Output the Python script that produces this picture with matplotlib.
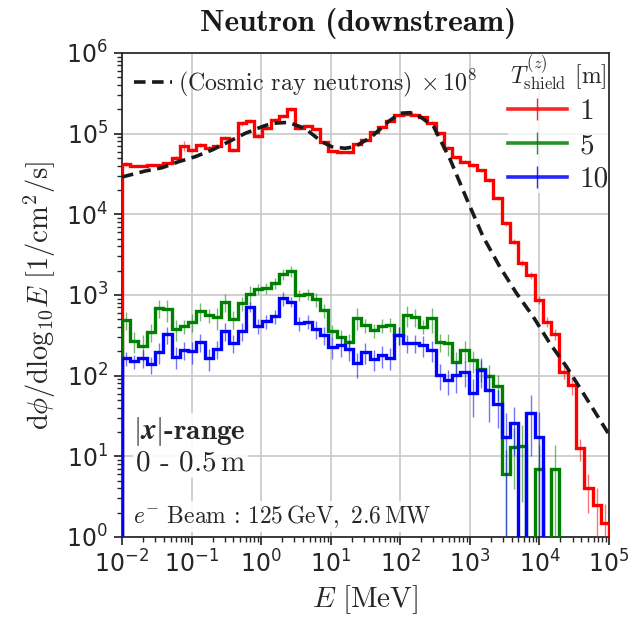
import numpy as np
import matplotlib.pyplot as plt
from matplotlib.lines import Line2D
from matplotlib.ticker import LogLocator, NullFormatter

# --- binning: 59 log bins between 1e-2 and 1e5 MeV ---
N_BINS = 59
edges = np.logspace(-2, 5, N_BINS + 1)
centers = np.sqrt(edges[:-1] * edges[1:])

# --- neutron flux per bin [1/cm^2/s], one list per shield thickness ---
flux_1m = [4.2e4, 4.0e4, 4.0e4, 4.1e4, 4.1e4, 4.3e4, 5.0e4, 7.1e4, 6.3e4, 7.2e4,
           6.7e4, 7.1e4, 8.8e4, 6.3e4, 1.34e5, 1.44e5, 9.4e4, 1.16e5, 1.48e5, 1.67e5,
           2.02e5, 1.16e5, 1.26e5, 1.14e5, 7.9e4, 6.1e4, 5.9e4, 5.9e4, 7.4e4, 8.3e4,
           1.04e5, 1.22e5, 1.44e5, 1.70e5, 1.75e5, 1.72e5, 1.60e5, 1.37e5, 1.01e5, 6.7e4,
           5.1e4, 4.5e4, 4.1e4, 3.5e4, 2.66e4, 1.58e4, 7.7e3, 4.6e3, 2.5e3, 1.77e3,
           867, 467, 330, 112, 77, 12.6, 4.0, 2.5, 1.5]
flux_5m = [490, 269, 235, 351, 697, 670, 379, 413, 467, 634,
           565, 529, 826, 504, 788, 1020, 1200, 1210, 1400, 1800,
           1980, 1000, 1020, 892, 651, 358, 304, 264, 523, 425,
           368, 417, 430, 319, 565, 529, 405, 514, 264, 252,
           149, 208, 156, 120, 99, 74.5, 6.0, 13.2, 13.5, 0,
           6.9, 0, 6.9, 0, 0, 0, 0, 0, 0]
flux_10m = [164, 152, 164, 138, 198, 325, 172, 208, 202, 259,
            164, 214, 358, 252, 358, 716, 415, 476, 550, 910,
            826, 446, 467, 379, 319, 228, 240, 214, 142, 198,
            161, 180, 167, 319, 252, 252, 240, 208, 102, 88,
            102, 112, 61, 118, 66, 44.5, 17.2, 25.6, 0, 34,
            17.5, 0, 0, 0, 0, 0, 0, 0, 0]

# relative statistical errors
rel_1m = [0.05, 0.03, 0.03, 0.03, 0.04, 0.04, 0.05, 0.15, 0.05, 0.05,
          0.04, 0.05, 0.06, 0.05, 0.08, 0.05, 0.05, 0.05, 0.05, 0.05,
          0.06, 0.04, 0.05, 0.04, 0.04, 0.04, 0.04, 0.04, 0.04, 0.04,
          0.04, 0.04, 0.04, 0.04, 0.04, 0.04, 0.04, 0.04, 0.05, 0.05,
          0.05, 0.05, 0.05, 0.05, 0.05, 0.06, 0.06, 0.08, 0.08, 0.1,
          0.12, 0.15, 0.15, 0.2, 0.25, 0.3, 0.5, 0.6, 0.7]
rel_5m = [0.25, 0.3, 0.35, 0.25, 0.25, 0.3, 0.3, 0.2, 0.25, 0.25,
          0.2, 0.3, 0.25, 0.25, 0.2, 0.25, 0.15, 0.15, 0.15, 0.15,
          0.15, 0.15, 0.15, 0.2, 0.2, 0.2, 0.2, 0.25, 0.3, 0.2,
          0.2, 0.2, 0.2, 0.25, 0.3, 0.25, 0.2, 0.35, 0.25, 0.3,
          0.3, 0.3, 0.3, 0.3, 0.35, 0.35, 1.0, 0.7, 0.8, 0,
          1.0, 0, 1.0, 0, 0, 0, 0, 0, 0]
rel_10m = [0.2, 0.2, 0.25, 0.25, 0.3, 0.25, 0.3, 0.25, 0.3, 0.25,
           0.3, 0.25, 0.25, 0.25, 0.25, 0.15, 0.2, 0.2, 0.2, 0.2,
           0.15, 0.2, 0.2, 0.25, 0.25, 0.3, 0.3, 0.3, 0.35, 0.3,
           0.3, 0.3, 0.3, 0.25, 0.25, 0.25, 0.3, 0.3, 0.35, 0.35,
           0.4, 0.35, 0.5, 0.4, 0.6, 0.5, 1.0, 0.6, 0, 0.7,
           1.0, 0, 0, 0, 0, 0, 0, 0, 0]

# cosmic ray neutron spectrum (x 1e8)
cosmic_E = [1e-2, 0.0216, 0.0376, 0.0653, 0.113, 0.197, 0.342, 0.593, 1.03, 1.42,
            2.46, 4.28, 7.41, 10.3, 16.0, 22.3, 38.8, 67.3, 100, 139,
            194, 302, 525, 912, 1550, 2690, 4680, 8130, 1.41e4, 2.45e4,
            4.27e4, 7.41e4, 1e5]
cosmic_flux = [2.9e4, 3.44e4, 3.78e4, 4.49e4, 5.18e4, 6.27e4, 7.94e4, 1.01e5, 1.22e5, 1.34e5,
               1.38e5, 1.16e5, 7.94e4, 6.89e4, 6.58e4, 6.89e4, 9.16e4, 1.41e5, 1.79e5, 1.82e5,
               1.62e5, 1.22e5, 4.71e4, 1.51e4, 5270, 2240, 1050, 538, 252, 129,
               60.4, 28.2, 18.6]

thickness = ['1', '5', '10']
series = [flux_1m, flux_5m, flux_10m]
errors = [rel_1m, rel_5m, rel_10m]
colors = ['#ff0000', '#008000', '#0000ff']

TXT = '#262626'
plt.rcParams.update({
    'font.family': 'DejaVu Sans',
    'xtick.labelsize': 17, 'ytick.labelsize': 17,
    'xtick.color': TXT, 'ytick.color': TXT,
    'axes.edgecolor': TXT, 'axes.linewidth': 1.25,
})

fig = plt.figure(figsize=(6.41, 6.21), dpi=100)
ax = fig.add_axes([0.1903, 0.1353, 0.7598, 0.7794])
ax.set_xscale('log')
ax.set_yscale('log')

for vals, rel, col, z in zip(series, errors, colors, [3, 4, 5]):
    vals = np.array(vals)
    err = vals * np.array(rel)
    ax.stairs(vals, edges, baseline=0, color=col, lw=2.4, zorder=z)
    ok = vals > 0
    ax.errorbar(centers[ok], vals[ok], yerr=err[ok], fmt='none', ecolor=col,
                elinewidth=1.0, alpha=0.55, zorder=z)

cosmic_line, = ax.plot(cosmic_E, cosmic_flux, color='#1a1a1a', lw=2.6,
                       ls=(0, (3.2, 1.8)), zorder=6)

ax.set_xlim(1e-2, 1e5)
ax.set_ylim(1e0, 1e6)
ax.xaxis.set_major_locator(LogLocator(base=10, numticks=100))
ax.yaxis.set_major_locator(LogLocator(base=10, numticks=100))
ax.xaxis.set_minor_locator(LogLocator(base=10, subs=np.arange(2, 10), numticks=100))
ax.yaxis.set_minor_locator(LogLocator(base=10, subs=np.arange(2, 10), numticks=100))
ax.xaxis.set_minor_formatter(NullFormatter())
ax.yaxis.set_minor_formatter(NullFormatter())
ax.tick_params(which='major', length=6, width=1.25, direction='out', pad=4)
ax.tick_params(which='minor', length=3.5, width=1.0, direction='out')
ax.grid(True, which='major', color='#c8c8c8', lw=1.2, zorder=0)
ax.set_axisbelow(True)

ax.set_xlabel(r'$E\ [\mathrm{MeV}]$', fontsize=21, color=TXT, math_fontfamily='cm', labelpad=4)
ax.set_ylabel(r'$\mathrm{d}\phi/\mathrm{dlog}_{10}E\ [1/\mathrm{cm}^2/\mathrm{s}]$', fontsize=20.5,
              color=TXT, math_fontfamily='cm', labelpad=6)
ax.set_title('Neutron (downstream)', fontfamily='cmb10', fontsize=22.5, color='#1a1a1a',
             pad=16, x=0.485)

# legends
leg1 = ax.legend([cosmic_line], [r'(Cosmic ray neutrons) $\times\,10^8$'], loc='upper left',
                 bbox_to_anchor=(-0.02, 1.015), frameon=False, handlelength=1.6, handletextpad=0.25,
                 prop={'family': 'cmr10', 'size': 17.2})
for t in leg1.get_texts():
    t.set_color(TXT)
    t.set_math_fontfamily('cm')
ax.add_artist(leg1)

handles = [Line2D([0], [0], color=c, lw=2.6, marker='|', markersize=16, markeredgewidth=1.0,
                  alpha=0.85) for c in colors]
leg2 = ax.legend(handles, thickness, loc='upper right', bbox_to_anchor=(1.0, 1.0),
                 title=r'$T^{(z)}_\mathrm{shield}$ [m]', numpoints=1, handlelength=2.0,
                 handletextpad=0.45, labelspacing=0.25, borderaxespad=0.0, borderpad=0.0,
                 prop={'family': 'cmr10', 'size': 21}, facecolor='white', edgecolor='none',
                 framealpha=0.8, fancybox=False)
leg2.set_zorder(2.4)
leg2.get_title().set_fontfamily('cmr10')
leg2.get_title().set_fontsize(17)
leg2.get_title().set_math_fontfamily('cm')
leg2.get_title().set_color(TXT)
for t in leg2.get_texts():
    t.set_color(TXT)

box = dict(facecolor='white', edgecolor='none', pad=1.5, alpha=0.9)
ax.text(0.138, 0.217, r'$|\mathbfit{x}|$-range', transform=ax.transAxes, ha='center', va='center',
        fontsize=21, fontfamily='cmb10', math_fontfamily='cm', color=TXT, bbox=box, zorder=7)
ax.text(0.14, 0.153, r'0 - 0.5$\,$m', transform=ax.transAxes, ha='center', va='center',
        fontsize=21, fontfamily='cmr10', math_fontfamily='cm', color=TXT, bbox=box, zorder=7)
ax.text(0.022, 0.042, r'$e^{-}\ \mathrm{Beam}\,:\,\mathrm{125\,GeV,\ 2.6\,MW}$', transform=ax.transAxes,
        ha='left', va='center', fontsize=17, math_fontfamily='cm', color=TXT, bbox=box, zorder=7)

fig.savefig('out.png', dpi=100)
